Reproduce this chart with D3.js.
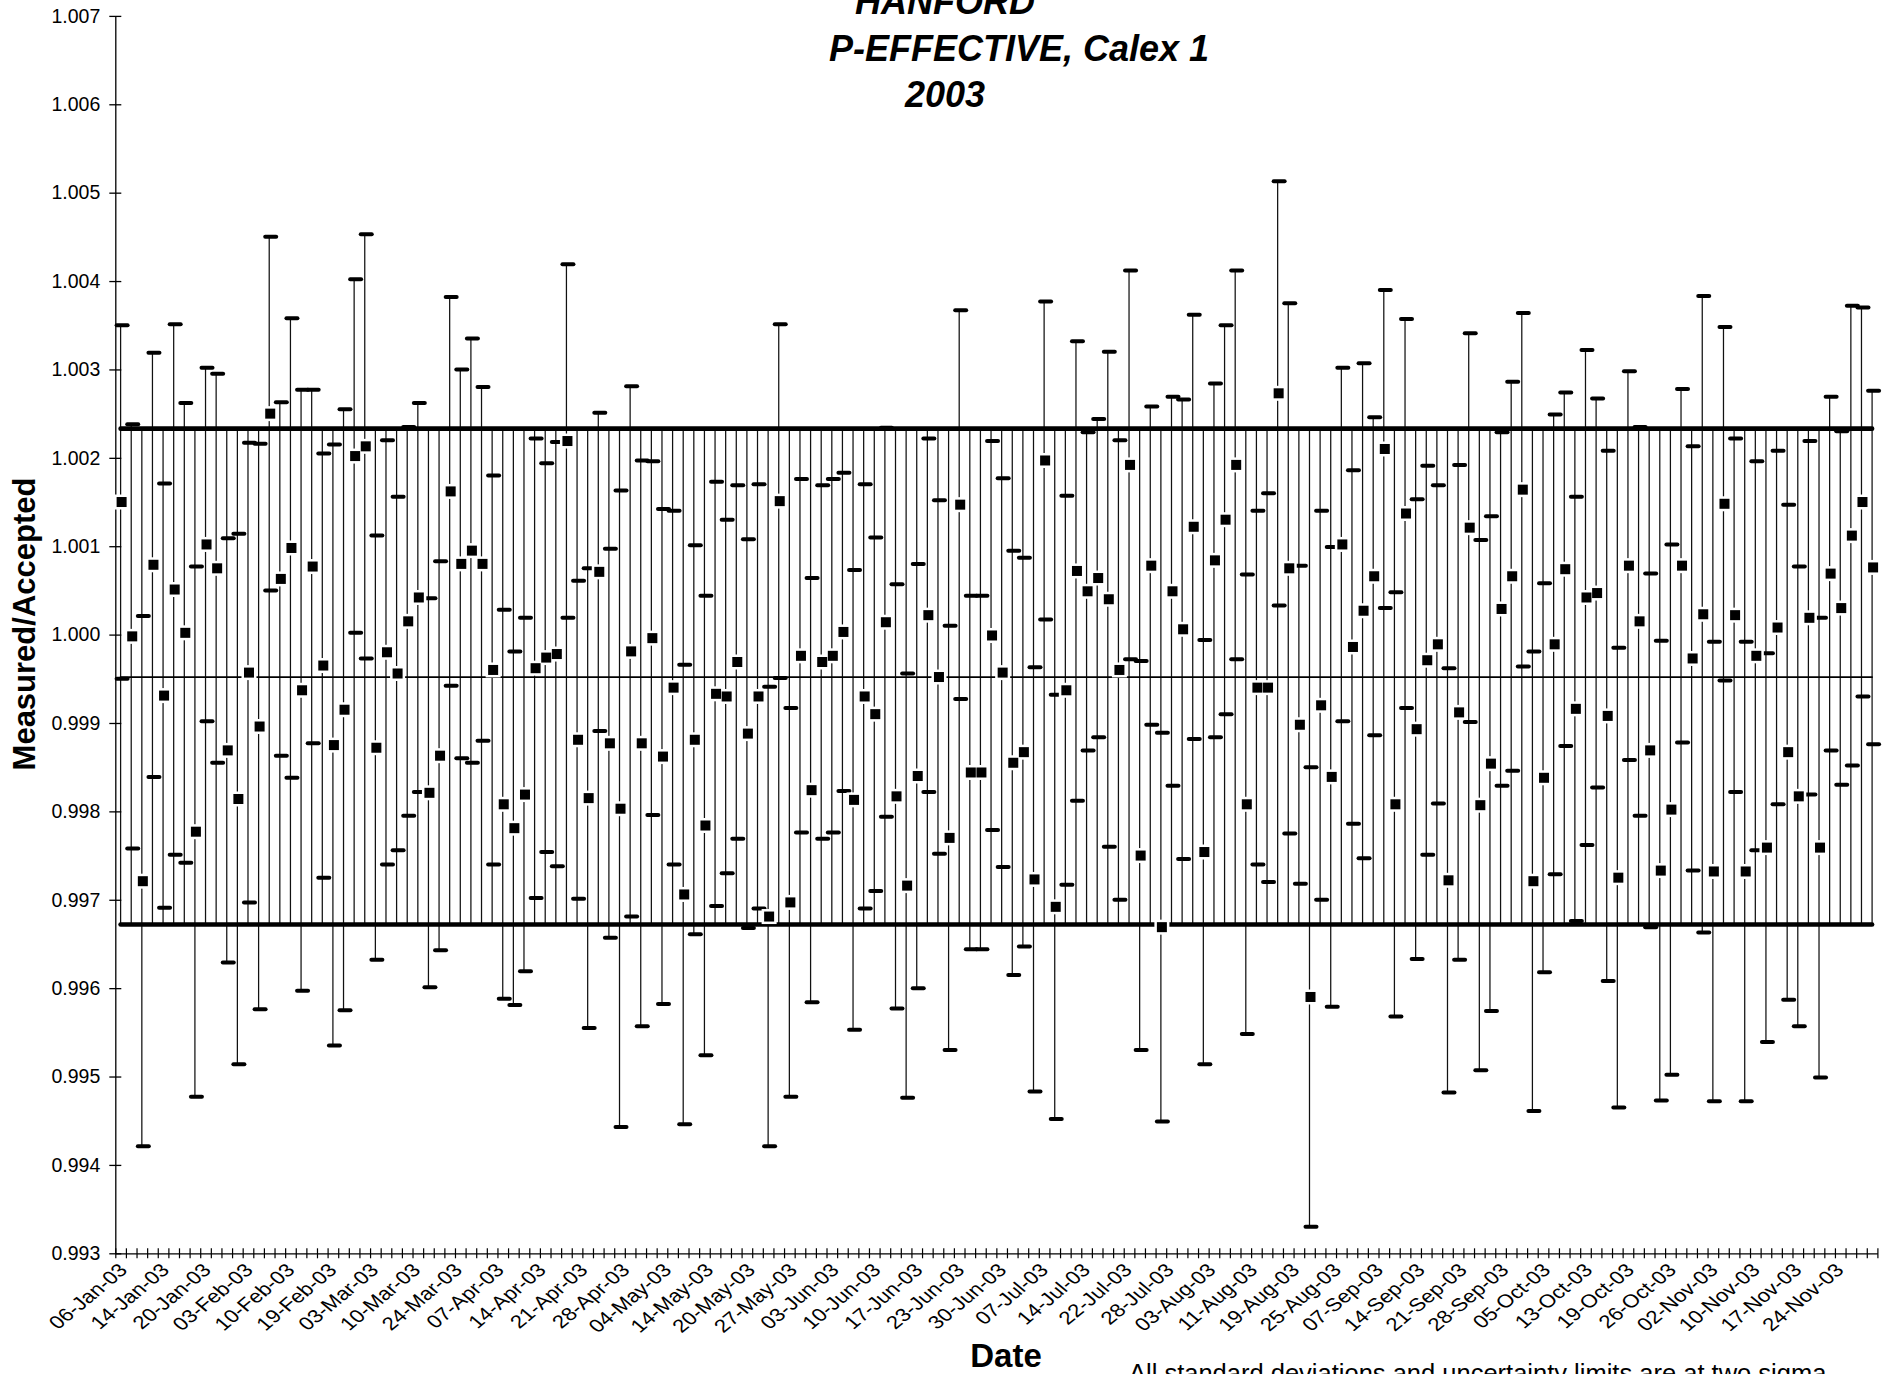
<!DOCTYPE html>
<html><head><meta charset="utf-8">
<script src="https://cdn.jsdelivr.net/npm/d3@7"></script>
<style>
html,body{margin:0;padding:0;background:#fff;}
svg{display:block;}
text{font-family:"Liberation Sans",Arial,Helvetica,sans-serif;fill:#000;}
</style></head><body>
<svg id="chart" width="1887" height="1374"></svg>
<script>
// ---------- data ----------
const tickLabels = ["06-Jan-03","14-Jan-03","20-Jan-03","03-Feb-03","10-Feb-03","19-Feb-03","03-Mar-03","10-Mar-03","24-Mar-03","07-Apr-03","14-Apr-03","21-Apr-03","28-Apr-03","04-May-03","14-May-03","20-May-03","27-May-03","03-Jun-03","10-Jun-03","17-Jun-03","23-Jun-03","30-Jun-03","07-Jul-03","14-Jul-03","22-Jul-03","28-Jul-03","03-Aug-03","11-Aug-03","19-Aug-03","25-Aug-03","07-Sep-03","14-Sep-03","21-Sep-03","28-Sep-03","05-Oct-03","13-Oct-03","19-Oct-03","26-Oct-03","02-Nov-03","10-Nov-03","17-Nov-03","24-Nov-03"];
const labelInterval = 4;

const measured = [
1.0015,0.99998,0.99721,1.00079,0.99931,1.00051,1.00002,0.99777,1.00102,1.00075,
0.99869,0.99814,0.99957,0.99896,1.0025,1.00063,1.00098,0.99937,1.00077,0.99965,
0.99875,0.99915,1.00202,1.00213,0.99872,0.9998,0.99956,1.00015,1.00042,0.99821,
0.99863,1.00162,1.0008,1.00095,1.0008,0.9996,0.99808,0.99781,0.99819,0.99962,
0.99974,0.99978,1.00219,0.99881,0.99815,1.00071,0.99877,0.99803,0.99981,0.99877,
0.99996,0.99862,0.9994,0.99706,0.99881,0.99784,0.99933,0.9993,0.99969,0.99888,
0.9993,0.99681,1.00151,0.99697,0.99976,0.99824,0.99969,0.99976,1.00003,0.99813,
0.9993,0.9991,1.00014,0.99817,0.99716,0.9984,1.00022,0.99952,0.9977,1.00147,
0.99844,0.99844,0.99999,0.99957,0.99855,0.99867,0.99723,1.00197,0.99692,0.99937,
1.00072,1.00049,1.00064,1.0004,0.9996,1.00192,0.9975,1.00078,0.99669,1.00049,
1.00006,1.00122,0.99754,1.00084,1.0013,1.00192,0.99808,0.9994,0.9994,1.00273,
1.00075,0.99898,0.9959,0.9992,0.99839,1.00102,0.99986,1.00027,1.00066,1.0021,
0.99808,1.00137,0.99893,0.99971,0.99989,0.99722,0.99912,1.00121,0.99807,0.99854,
1.00029,1.00066,1.00164,0.99721,0.99838,0.99989,1.00074,0.99916,1.00042,1.00047,
0.99908,0.99725,1.00078,1.00015,0.99869,0.99733,0.99802,1.00078,0.99973,1.00023,
0.99732,1.00148,1.00022,0.99732,0.99976,0.99759,1.00008,0.99867,0.99817,1.00019,
0.99759,1.00069,1.0003,1.00112,1.0015,1.00076
];

const twoSigma = [
0.0020,0.0024,0.0030,0.0024,0.0024,0.0030,0.0026,0.0030,0.0020,0.0022,
0.0024,0.0030,0.0026,0.0032,0.0020,0.0020,0.0026,0.0034,0.0020,0.0024,
0.0034,0.0034,0.0020,0.0024,0.0024,0.0024,0.0020,0.0022,0.0022,0.0022,
0.0022,0.0022,0.0022,0.0024,0.0020,0.0022,0.0022,0.0020,0.0020,0.0026,
0.0022,0.0024,0.0020,0.0018,0.0026,0.0018,0.0022,0.0036,0.0030,0.0032,
0.0020,0.0028,0.0020,0.0026,0.0022,0.0026,0.0024,0.0020,0.0020,0.0022,
0.0024,0.0026,0.0020,0.0022,0.0020,0.0024,0.0020,0.0020,0.0018,0.0026,
0.0024,0.0020,0.0022,0.0024,0.0024,0.0024,0.0020,0.0020,0.0024,0.0022,
0.0020,0.0020,0.0022,0.0022,0.0024,0.0022,0.0024,0.0018,0.0024,0.0022,
0.0026,0.0018,0.0018,0.0028,0.0026,0.0022,0.0022,0.0018,0.0022,0.0022,
0.0026,0.0024,0.0024,0.0020,0.0022,0.0022,0.0026,0.0020,0.0022,0.0024,
0.0030,0.0018,0.0026,0.0022,0.0026,0.0020,0.0020,0.0028,0.0018,0.0018,
0.0024,0.0022,0.0026,0.0022,0.0018,0.0024,0.0028,0.0022,0.0030,0.0028,
0.0020,0.0022,0.0020,0.0026,0.0022,0.0026,0.0020,0.0024,0.0028,0.0022,
0.0030,0.0026,0.0022,0.0022,0.0020,0.0026,0.0030,0.0020,0.0024,0.0036,
0.0026,0.0020,0.0020,0.0026,0.0022,0.0022,0.0020,0.0028,0.0026,0.0020,
0.0026,0.0020,0.0020,0.0026,0.0022,0.0020
];

const upperLimit = 1.00233;
const meanValue = 0.99952;
const lowerLimit = 0.99672;
const yTicks = [0.993,0.994,0.995,0.996,0.997,0.998,0.999,1.000,1.001,1.002,1.003,1.004,1.005,1.006,1.007];
const titleLines = ["HANFORD","P-EFFECTIVE, Calex 1","2003"];

// ---------- layout ----------
const svg = d3.select("#chart");
const plot = {left:115.3, right:1877.4, top:15.9, bottom:1253.3};
const n = measured.length;

const x = d3.scaleBand().domain(d3.range(n)).range([plot.left, plot.right]).padding(0);
const xEdge = d3.scaleLinear().domain([0, n]).range([plot.left, plot.right]);
const cx = i => x(i) + x.bandwidth() / 2;
const y = d3.scaleLinear().domain([0.993, 1.007]).range([plot.bottom, plot.top]);

const pts = measured.map((v, i) => ({i, v, hi: v + twoSigma[i], lo: v - twoSigma[i]}));

// high-low lines (span every series incl. limits)
svg.append("g").selectAll("line").data(pts).join("line")
  .attr("x1", d => cx(d.i)).attr("x2", d => cx(d.i))
  .attr("y1", d => y(Math.max(d.hi, upperLimit)))
  .attr("y2", d => y(Math.min(d.lo, lowerLimit)))
  .attr("stroke", "#111").attr("stroke-width", 1.25);

// limit lines
const hl = svg.append("g").attr("stroke", "#000").attr("stroke-linecap", "round").attr("fill", "none");
[[upperLimit, 4.6], [meanValue, 1.8], [lowerLimit, 4.6]].forEach(([v, w]) => {
  hl.append("line").attr("x1", cx(0)).attr("x2", cx(n - 1))
    .attr("y1", y(v)).attr("y2", y(v)).attr("stroke-width", w);
});

// axes
const yAxis = d3.axisLeft(y).tickValues(yTicks).tickFormat(d3.format(".3f"))
  .tickSizeInner(6).tickSizeOuter(0).tickPadding(9);
const gy = svg.append("g").attr("transform", `translate(${plot.left},0)`).call(yAxis);
gy.select(".domain").attr("stroke", "#000").attr("stroke-width", 1.3);
gy.selectAll(".tick line").attr("x1", 6).attr("stroke", "#000").attr("stroke-width", 1.3);
gy.selectAll(".tick text").attr("font-size", 19.5).attr("font-family", "Liberation Sans, Arial, sans-serif");

const xAxis = d3.axisBottom(xEdge).tickValues(d3.range(n + 1)).tickFormat("")
  .tickSizeInner(5).tickSizeOuter(0);
const gx = svg.append("g").attr("transform", `translate(0,${plot.bottom})`).call(xAxis);
gx.select(".domain").attr("stroke", "#000").attr("stroke-width", 1.3);
gx.selectAll(".tick line").attr("y1", -5).attr("stroke", "#000").attr("stroke-width", 1.2);

// x tick labels (every 4th category), slanted like the source
const labelIdx = tickLabels.map((t, k) => ({t, k, i: k * labelInterval}));
svg.append("g").selectAll("text").data(labelIdx).join("text")
  .attr("transform", d => `translate(${cx(d.i) + 8 - 0.6 * d.k},${plot.bottom + 18}) scale(1.2,1) rotate(-45)`)
  .attr("text-anchor", "end").attr("font-size", 18.5)
  .text(d => d.t);

// high / low dashes
const dashes = svg.append("g");
["hi", "lo"].forEach(key => {
  dashes.append("g").selectAll("rect").data(pts).join("rect")
    .attr("x", d => cx(d.i) + 1.5 - 7.5).attr("y", d => y(d[key]) - 2)
    .attr("width", 15).attr("height", 4).attr("rx", 2).attr("fill", "#000");
});

// measured value squares with white halo
const sq = svg.append("g");
sq.selectAll("rect.halo").data(pts).join("rect").attr("class", "halo")
  .attr("x", d => cx(d.i) + 1 - 7.5).attr("y", d => y(d.v) - 7.5)
  .attr("width", 15).attr("height", 15).attr("fill", "#fff");
sq.selectAll("rect.pt").data(pts).join("rect").attr("class", "pt")
  .attr("x", d => cx(d.i) + 1 - 5).attr("y", d => y(d.v) - 5)
  .attr("width", 10).attr("height", 10).attr("fill", "#000");

// titles
const tpos = [[945, 14], [1019, 61], [945, 107]];
svg.append("g").selectAll("text").data(titleLines).join("text")
  .attr("x", (d, k) => tpos[k][0]).attr("y", (d, k) => tpos[k][1])
  .attr("text-anchor", "middle").attr("font-size", 36)
  .attr("font-weight", "bold").attr("font-style", "italic")
  .text(d => d);

svg.append("text").attr("transform", "translate(35,624) rotate(-90)")
  .attr("text-anchor", "middle").attr("font-size", 31).attr("font-weight", "bold")
  .text("Measured/Accepted");

svg.append("text").attr("x", 1006).attr("y", 1367)
  .attr("text-anchor", "middle").attr("font-size", 33).attr("font-weight", "bold")
  .text("Date");

svg.append("text").attr("x", 1129).attr("y", 1382)
  .attr("font-size", 25.5)
  .text("All standard deviations and uncertainty limits are at two sigma");
</script>
</body></html>
